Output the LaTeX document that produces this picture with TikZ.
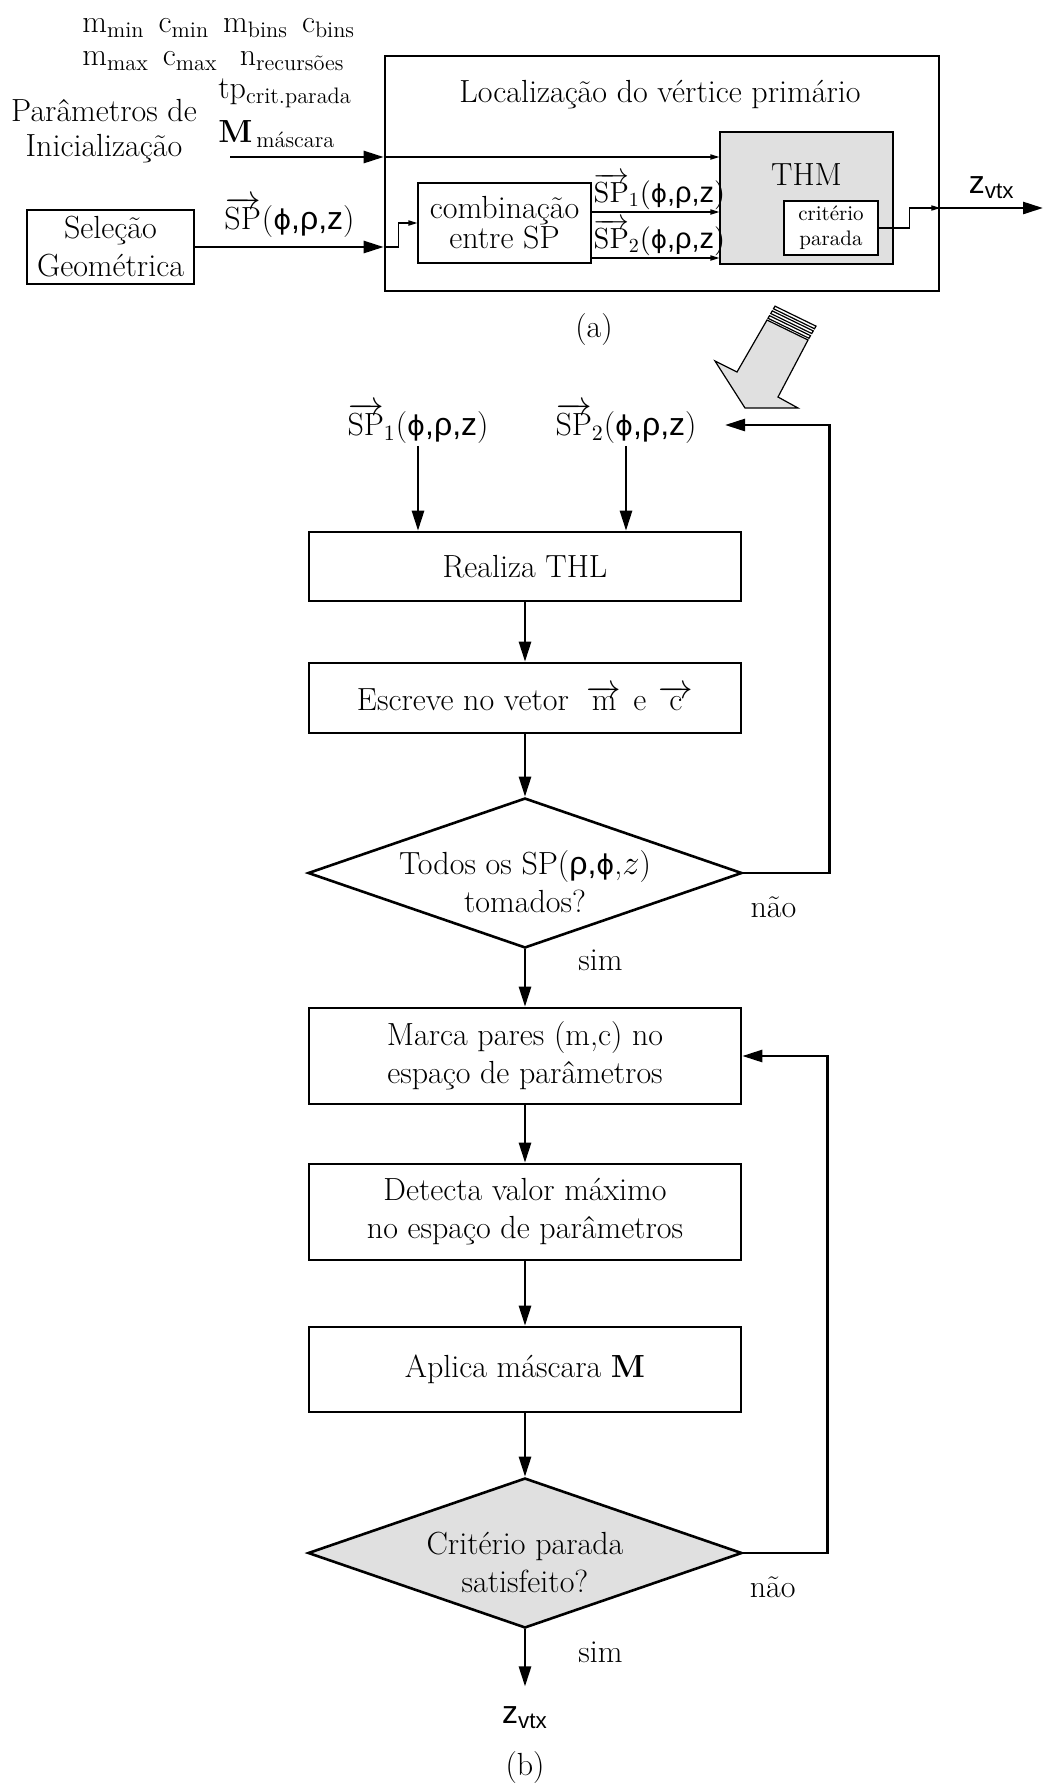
\documentclass[tikz,border=0pt]{standalone}
\usepackage{fontspec}
\newfontfamily\sanf{Liberation Sans}
\newfontfamily\grk[Scale=0.85]{DejaVu Sans}
\usepackage{tikz}
\usetikzlibrary{shapes,arrows.meta,positioning,calc}

\newcommand{\phr}{{\grk ϕ}{\sanf ,ρ,z}}
\newcommand{\vsp}[1]{$\overrightarrow{\mathrm{SP}}_{#1}$}

\begin{document}
\begin{tikzpicture}[x=0.5pt, y=-0.5pt,
    every node/.style={font=\fontsize{16}{19}\selectfont, inner sep=1pt},
    box/.style={rectangle, draw, line width=1.3pt, minimum width=216pt, minimum height=35pt, align=center},
    thinbox/.style={rectangle, draw, line width=0.6pt, align=center},
    decision/.style={diamond, draw, line width=1.3pt, minimum width=217pt, minimum height=75pt, inner sep=0pt},
    arrow/.style={-{Triangle[length=10pt,width=6pt]}, line width=1.3pt},
    thinarrow/.style={-{Triangle[length=4.5pt,width=2.6pt]}, line width=0.6pt}
]
\useasboundingbox (0,0) rectangle (1043,1785);

% (a) parametros de entrada
\node[anchor=west] (prow1) at (80,28) {m\textsubscript{min}\hspace{7pt}c\textsubscript{min}\hspace{7pt}m\textsubscript{bins}\hspace{7pt}c\textsubscript{bins}};
\node[anchor=west] (prow2) at (80,61) {m\textsubscript{max}\hspace{7pt}c\textsubscript{max}\hspace{11pt}n\textsubscript{recursões}};
\node[anchor=west] (ptp) at (216,93) {tp\textsubscript{crit.parada}};
\node[anchor=west] (pmask) at (216,134) {\textbf{M}\textsubscript{\,máscara}};
\node[align=center, font=\fontsize{16}{17.5}\selectfont] (params) at (104,131) {Parâmetros de\\Inicialização};
\coordinate (ini) at (230,157);

% bloco de localizacao
\node[draw, line width=1.3pt, minimum width=277pt, minimum height=117.5pt] (loc) at (662,173.5) {};
\node (loctit) at (660,95) {Localização do vértice primário};
\node[draw, line width=0.6pt, fill=black!12, minimum width=86.5pt, minimum height=66pt,
    label={[anchor=north, yshift=-15pt]north:THM}] (thm) at (806.5,198) {};
\node[thinbox, fill=white, minimum width=47pt, minimum height=27pt, font=\fontsize{10.5}{12.5}\selectfont] (crit) at (831,228) {critério\\parada};
\node[thinbox, minimum width=86.5pt, minimum height=40pt, font=\fontsize{16}{15}\selectfont] (comb) at (504.5,223) {combinação\\entre SP};
\node[box, minimum width=83.5pt, minimum height=37pt] (sel) at (110.5,247) {Seleção\\Geométrica};

\draw[arrow] (ini) -- (ini -| loc.west);
\draw[thinarrow] (ini -| loc.west) -- (ini -| thm.west);
\draw[arrow] (sel.east) -- node[above=3pt] {\vsp{}(\phr)} (sel.east -| loc.west);
\draw[thinarrow] (sel.east -| loc.west) -- ++(15,0) |- (comb.west);
\draw[thinarrow] (comb.east |- 0,212) -- node[above=0pt, xshift=2pt, font=\fontsize{14.5}{17}\selectfont] {\vsp{1}(\phr)} (thm.west |- 0,212);
\draw[thinarrow] (comb.east |- 0,258) -- node[above=0pt, xshift=2pt, font=\fontsize{14.5}{17}\selectfont] {\vsp{2}(\phr)} (thm.west |- 0,258);

% saida z_vtx
\coordinate (zout) at (loc.east |- 0,208);
\coordinate (zend) at (1043,208);
\draw[thinarrow] (crit.east) -- ++(31,0) |- (zout);
\draw[arrow] (zout) -- node[above=3pt, font=\sanf\fontsize{16}{19}\selectfont] {z\textsubscript{vtx}} (zend);

\node (capa) at (594,330) {(a)};

% seta grande
\draw[fill=black!12, line width=0.6pt] (767,320) -- (737,372) -- (715,361) -- (745,408) -- (798,408) -- (778,397) -- (808,340) -- cycle;
\foreach \a in {2,7.5,13}
    \draw[fill=white, line width=0.6pt, shift={(\a*0.5,-\a*0.866)}] (767,320) -- (808,340) -- (809.5,337.4) -- (768.5,317.4) -- cycle;

% (b) fluxograma
\node (sp1) at (418,423) {\vsp{1}(\phr)};
\node (sp2) at (626,423) {\vsp{2}(\phr)};
\coordinate (sp2in) at (725,425);

\node[box, minimum height=34.5pt] (thl) at (525,566.5) {Realiza THL};
\node[box] (esc) at (525,698) {Escreve no vetor\hspace{9pt}$\overrightarrow{\mathrm{m}}$\hspace{6pt}e\hspace{6pt}$\overrightarrow{\mathrm{c}}$};
\node[decision, label={[align=center, yshift=-4.5pt]center:Todos os SP({\sanf ρ,}{\grk ϕ},$z$)\\tomados?}] (todos) at (525,873) {};
\node[box, minimum height=48pt] (marca) at (525,1056) {Marca pares (m,c) no\\espaço de parâmetros};
\node[box, minimum height=48pt] (detec) at (525,1212) {Detecta valor máximo\\no espaço de parâmetros};
\node[box, minimum height=42.5pt] (aplica) at (525,1369.5) {Aplica máscara \textbf{M}};
\node[decision, fill=black!12, label={[align=center, yshift=-4.5pt]center:Critério parada\\satisfeito?}] (parada) at (525,1553) {};
\node[font=\sanf\fontsize{16}{19}\selectfont] (zvtxb) at (525,1718) {z\textsubscript{vtx}};
\node (capb) at (525,1767) {(b)};

\draw[arrow] (sp1.south) -- (sp1.south |- thl.north);
\draw[arrow] (sp2.south) -- (sp2.south |- thl.north);
\draw[arrow] (thl) -- (esc);
\draw[arrow] (esc) -- (todos);
\draw[arrow] (todos) -- node[pos=0.2, right=25pt] {sim} (marca);
\draw[arrow] (todos.east) -- node[pos=0.35, below=10pt] {não} ++(86,0) |- (sp2in);
\draw[arrow] (marca) -- (detec);
\draw[arrow] (detec) -- (aplica);
\draw[arrow] (aplica) -- (parada);
\draw[arrow] (parada.east) -- node[pos=0.35, below=10pt] {não} ++(84,0) |- (marca.east);
\draw[arrow, shorten >=9pt] (parada) -- node[pos=0.3, right=25pt] {sim} (zvtxb);

\end{tikzpicture}
\end{document}
